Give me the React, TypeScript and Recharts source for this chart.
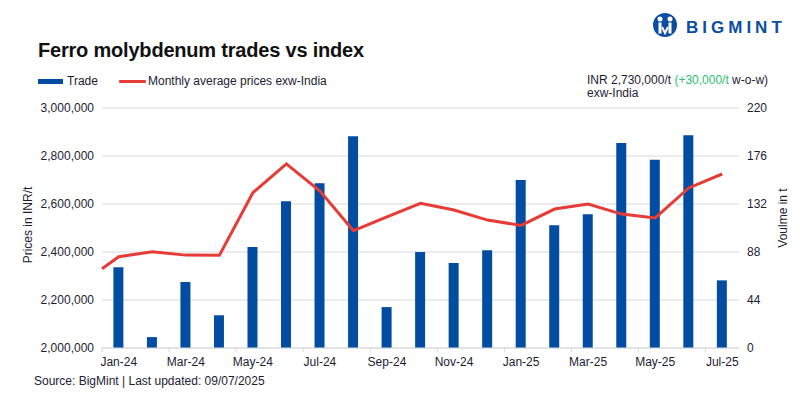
import React from 'react';
import { ComposedChart, Bar, Line, XAxis, YAxis, CartesianGrid } from 'recharts';

const categories = ['Jan-24','Feb-24','Mar-24','Apr-24','May-24','Jun-24','Jul-24','Aug-24','Sep-24','Oct-24','Nov-24','Dec-24','Jan-25','Feb-25','Mar-25','Apr-25','May-25','Jun-25','Jul-25'];
const tradeVolumes = [74, 10, 60.5, 30, 92.5, 134.5, 151, 194, 37.5, 88, 78, 89.5, 154, 112.5, 122.5, 188, 172.5, 195, 62];
const avgPrices = [2380000, 2401000, 2387000, 2386000, 2647000, 2767000, 2654000, 2489000, 2546000, 2603000, 2575000, 2533000, 2511000, 2579000, 2600000, 2558000, 2542000, 2667000, 2725000];
const priorPrice = 2330000;
const priceTicks = [2000000, 2200000, 2400000, 2600000, 2800000, 3000000];
const volumeTicks = [0, 44, 88, 132, 176, 220];

const data = [
  { x: -0.5, price: priorPrice },
  ...categories.map((c, i) => ({ x: i, trade: tradeVolumes[i], price: avgPrices[i] })),
];

const xTicks: number[] = [];
for (let i = 0; i < categories.length; i += 2) {
  xTicks.push(i - 0.5);
  xTicks.push(i);
}

const TEXT = '#1c1c33';
const FONT = '"Liberation Sans", Arial, sans-serif';

const XTick = (props: any) => {
  const { x, y, payload } = props;
  const v = payload.value;
  if (Number.isInteger(v)) {
    return (
      <text x={x} y={y + 10} textAnchor="middle" fill={TEXT} fontSize={12} fontFamily={FONT}>
        {categories[v]}
      </text>
    );
  }
  return <line x1={x} x2={x} y1={y - 8} y2={y - 4} stroke="#d9d9d9" strokeWidth={1} />;
};

const fmt = (v: number) => v.toLocaleString('en-US');

export default function App() {
  return (
    <div style={{ position: 'absolute', left: 0, top: 0, width: 800, height: 398, background: '#fff', fontFamily: FONT, color: TEXT, overflow: 'hidden' }}>
      <ComposedChart width={800} height={398} data={data} margin={{ top: 108, right: 0, bottom: 0, left: 0 }}>
        <CartesianGrid yAxisId="left" vertical={false} stroke="#d9d9d9" />
        <XAxis
          dataKey="x"
          type="number"
          domain={[-0.5, 18.5]}
          ticks={xTicks}
          interval={0}
          tick={<XTick />}
          tickLine={false}
          axisLine={{ stroke: '#d9d9d9' }}
          height={50}
        />
        <YAxis
          yAxisId="left"
          orientation="left"
          width={102}
          domain={[2000000, 3000000]}
          ticks={priceTicks}
          tickFormatter={fmt}
          tickLine={false}
          axisLine={false}
          tick={{ fill: TEXT, fontSize: 12, fontFamily: FONT }}
        />
        <YAxis
          yAxisId="right"
          orientation="right"
          width={61}
          domain={[0, 220]}
          ticks={volumeTicks}
          tickLine={false}
          axisLine={false}
          tick={{ fill: TEXT, fontSize: 12, fontFamily: FONT }}
        />
        <Bar yAxisId="right" dataKey="trade" fill="#024DA1" barSize={10} isAnimationActive={false} />
        <Line yAxisId="left" dataKey="price" type="linear" stroke="#E63B36" strokeWidth={3} dot={false} connectNulls isAnimationActive={false} />
      </ComposedChart>

      {/* Title */}
      <div style={{ position: 'absolute', left: 38, top: 38, fontSize: 20, fontWeight: 700, letterSpacing: -0.2, color: '#111', whiteSpace: 'nowrap', lineHeight: '24px' }}>
        Ferro molybdenum trades vs index
      </div>

      {/* Legend */}
      <div style={{ position: 'absolute', left: 38, top: 79, width: 25, height: 5, background: '#024DA1' }} />
      <div style={{ position: 'absolute', left: 67, top: 74, fontSize: 12, lineHeight: '14px', whiteSpace: 'nowrap' }}>Trade</div>
      <div style={{ position: 'absolute', left: 119, top: 80, width: 27, height: 3, background: '#E63B36', borderRadius: 1 }} />
      <div style={{ position: 'absolute', left: 148, top: 74, fontSize: 12, lineHeight: '14px', whiteSpace: 'nowrap' }}>Monthly average prices exw-India</div>

      {/* Annotation */}
      <div style={{ position: 'absolute', left: 587, top: 74, fontSize: 12, lineHeight: '13px', whiteSpace: 'nowrap' }}>
        <div>INR 2,730,000/t <span style={{ color: '#2EBE6E' }}>(+30,000/t</span> w-o-w)</div>
        <div>exw-India</div>
      </div>

      {/* Axis titles */}
      <div style={{ position: 'absolute', left: 28, top: 225, transform: 'translate(-50%, -50%) rotate(-90deg)', fontSize: 12, whiteSpace: 'nowrap' }}>
        Prices in INR/t
      </div>
      <div style={{ position: 'absolute', left: 783, top: 218, transform: 'translate(-50%, -50%) rotate(-90deg)', fontSize: 12, whiteSpace: 'nowrap' }}>
        Voulme in t
      </div>

      {/* Source */}
      <div style={{ position: 'absolute', left: 34, top: 374, fontSize: 12, lineHeight: '14px', whiteSpace: 'nowrap' }}>
        Source: BigMint | Last updated: 09/07/2025
      </div>

      {/* Logo */}
      <svg style={{ position: 'absolute', left: 650, top: 10 }} width={145} height={30}>
        <circle cx={15} cy={15} r={12} fill="#0B4DA2" />
        <circle cx={10} cy={9} r={2.5} fill="#fff" />
        <circle cx={20} cy={9} r={2.5} fill="#fff" />
        <rect x={8.5} y={12.5} width={3} height={11} fill="#fff" />
        <rect x={18.5} y={12.5} width={3} height={11} fill="#fff" />
        <path d="M12 17 L15 23 L18 17" stroke="#fff" strokeWidth={2} fill="none" />
        <text x={36} y={23} fill="#0B4DA2" fontSize={17} fontWeight={700} letterSpacing={4} fontFamily={FONT}>BIGMINT</text>
      </svg>
    </div>
  );
}
